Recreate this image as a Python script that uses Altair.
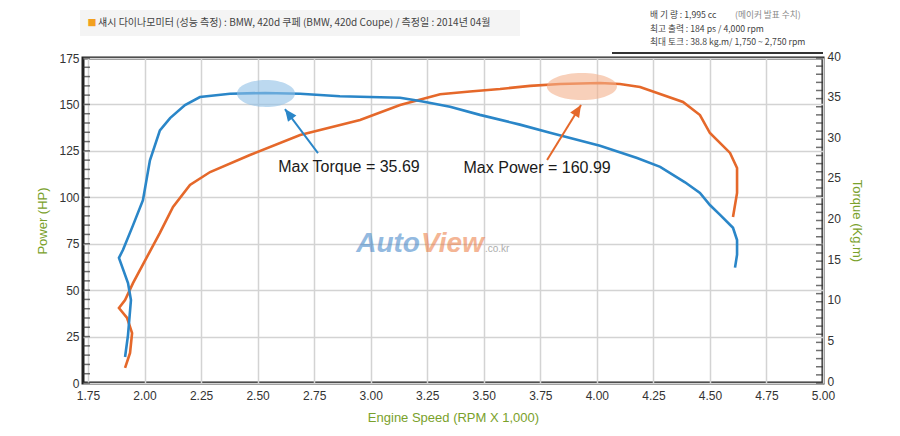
import altair as alt
import pandas as pd

# ---------------- data ----------------
torque_rpm = [1.914, 1.927, 1.940, 1.927, 1.887, 1.905, 1.949, 1.993, 2.024, 2.068,
              2.113, 2.179, 2.245, 2.378, 2.533, 2.688, 2.864, 3.130, 3.218, 3.351,
              3.483, 3.660, 3.793, 4.014, 4.178, 4.280, 4.390, 4.456, 4.500, 4.545,
              4.602, 4.620, 4.620, 4.611]
torque_kgm = [3.2, 5.9, 10.2, 12.3, 15.4, 16.4, 19.4, 22.5, 27.4, 31.1,
              32.6, 34.2, 35.2, 35.6, 35.7, 35.6, 35.3, 35.1, 34.7, 34.0,
              33.0, 31.8, 30.8, 29.2, 27.7, 26.6, 24.7, 23.4, 21.9, 20.7,
              19.1, 17.6, 15.8, 14.2]

power_rpm = [1.914, 1.936, 1.945, 1.923, 1.887, 1.914, 1.949, 2.011, 2.068, 2.126,
             2.201, 2.290, 2.466, 2.688, 2.953, 3.130, 3.307, 3.439, 3.572, 3.705,
             3.837, 4.014, 4.102, 4.191, 4.381, 4.456, 4.500, 4.589, 4.620, 4.620,
             4.602]
power_hp = [8.1, 16.2, 26.9, 35.0, 40.4, 44.7, 53.8, 67.9, 80.8, 94.8,
            106.6, 113.6, 122.8, 133.5, 141.6, 149.7, 155.5, 157.0, 158.3, 160.0,
            161.0, 161.5, 161.0, 159.4, 151.3, 144.3, 134.6, 123.9, 115.8, 102.3,
            89.4]

x_ticks = [1.75, 2.0, 2.25, 2.5, 2.75, 3.0, 3.25, 3.5, 3.75, 4.0, 4.25, 4.5, 4.75, 5.0]
hp_ticks = [0, 25, 50, 75, 100, 125, 150, 175]
tq_ticks = [0, 5, 10, 15, 20, 25, 30, 35, 40]
hp_minor = list(range(0, 176, 5))
tq_minor = list(range(0, 41))

# annotations (rpm, HP-scale)
ann_labels = ["Max Torque = 35.69", "Max Power = 160.99"]
ann_x = [2.904, 3.736]
ann_y = [116.3, 115.8]
ell_x = [2.537, 3.934]
ell_y = [155.9, 159.7]
arrow_x = [2.767, 3.780]
arrow_y = [123.8, 120.1]
arrow_x2 = [2.621, 3.930]
arrow_y2 = [147.5, 149.7]
arrow_ang = [323, 32]

header_text = "섀시 다이나모미터 (성능 측정)  :  BMW, 420d 쿠페 (BMW, 420d Coupe) / 측정일 : 2014년 04월"
spec_lines = ["배 기 량 : 1,995 cc", "최고 출력 : 184 ps / 4,000 rpm", "최대 토크 : 38.8 kg.m/ 1,750 ~ 2,750 rpm"]
spec_note = "(메이커 발표 수치)"

# ---------------- style ----------------
W, H = 740, 325
BLUE = "#2a86c8"
ORANGE = "#e5682a"
GREEN = "#7aa12b"
FONT = "Liberation Sans"
KFONT = "Noto Sans CJK KR"

X_DOMAIN = [1.728, 5.0]
hp_scale = alt.Scale(domain=[0, 175], nice=False, zero=True)
tq_scale = alt.Scale(domain=[0, 40], nice=False, zero=True)
x_scale = alt.Scale(domain=X_DOMAIN, nice=False, zero=False)

x_axis = alt.Axis(values=x_ticks, format=".2f", title="Engine Speed (RPM X 1,000)",
                  grid=True, gridColor="#d3d3d3", gridWidth=1.5, ticks=False, domain=False,
                  labelPadding=7, titlePadding=10, labelFont=FONT, labelFontSize=12,
                  labelColor="#333", titleFont=FONT, titleFontSize=13, titleFontWeight="normal",
                  titleColor=GREEN, labelFlush=False)
hp_axis = alt.Axis(values=hp_ticks, title="Power (HP)", orient="left", grid=True,
                   gridColor="#d3d3d3", gridWidth=1.5, ticks=False, domain=False,
                   labelPadding=4, titlePadding=9, labelFont=FONT, labelFontSize=12,
                   labelColor="#333", titleFont=FONT, titleFontSize=13,
                   titleFontWeight="normal", titleColor=GREEN)
tq_axis = alt.Axis(values=tq_ticks, title="Torque (Kg.m)", orient="right", grid=False,
                   ticks=False, domain=False, labelPadding=4, titlePadding=9,
                   labelOffset=-2,
                   labelFont=FONT, labelFontSize=12, labelColor="#333",
                   titleFont=FONT, titleFontSize=13, titleFontWeight="normal",
                   titleColor=GREEN)

tq_df = pd.DataFrame({"rpm": torque_rpm, "val": torque_kgm, "i": range(len(torque_rpm))})
pw_df = pd.DataFrame({"rpm": power_rpm, "val": power_hp, "i": range(len(power_rpm))})

power_line = alt.Chart(pw_df).mark_line(color=ORANGE, strokeWidth=2.6).encode(
    x=alt.X("rpm:Q", scale=x_scale, axis=x_axis),
    y=alt.Y("val:Q", scale=hp_scale, axis=hp_axis),
    order="i:Q",
)

hp_tick_layer = alt.Chart(pd.DataFrame({"val": hp_minor})).mark_tick(
    orient="horizontal", color="#333", thickness=1.5, size=7
).encode(y=alt.Y("val:Q", scale=hp_scale, axis=hp_axis), x=alt.value(3.5))

power_group = alt.layer(power_line, hp_tick_layer)

torque_line = alt.Chart(tq_df).mark_line(color=BLUE, strokeWidth=2.6).encode(
    x=alt.X("rpm:Q", scale=x_scale, axis=x_axis),
    y=alt.Y("val:Q", scale=tq_scale, axis=tq_axis),
    order="i:Q",
)

tq_tick_layer = alt.Chart(pd.DataFrame({"val": tq_minor})).mark_tick(
    orient="horizontal", color="#333", thickness=1.5, size=7
).encode(y=alt.Y("val:Q", scale=tq_scale, axis=tq_axis), x=alt.value(W - 3.5))

torque_group = alt.layer(torque_line, tq_tick_layer)

# ---------------- annotations ----------------
ann_y_enc = lambda f: alt.Y(f, scale=hp_scale, axis=None)
ann_x_enc = lambda f: alt.X(f, scale=x_scale, axis=x_axis)

ell_df = pd.DataFrame({"x": ell_x, "y": ell_y})
ell_blue = alt.Chart(ell_df.iloc[[0]]).mark_point(
    shape="M-1,0 A1,0.466 0 1,1 1,0 A1,0.466 0 1,1 -1,0 Z",
    filled=True, size=3364, color="#8fc0e6", opacity=0.6, strokeWidth=0
).encode(x=ann_x_enc("x:Q"), y=ann_y_enc("y:Q"))
ell_orange = alt.Chart(ell_df.iloc[[1]]).mark_point(
    shape="M-1,0 A1,0.386 0 1,1 1,0 A1,0.386 0 1,1 -1,0 Z",
    filled=True, size=4900, color="#f4b08c", opacity=0.6, strokeWidth=0
).encode(x=ann_x_enc("x:Q"), y=ann_y_enc("y:Q"))

arr_df = pd.DataFrame({"x": arrow_x, "y": arrow_y, "x2": arrow_x2, "y2": arrow_y2,
                       "ang": arrow_ang, "c": [BLUE, ORANGE]})
arrow_lines = alt.Chart(arr_df).mark_rule(strokeWidth=2).encode(
    x=ann_x_enc("x:Q"), y=ann_y_enc("y:Q"), x2="x2:Q", y2="y2:Q",
    color=alt.Color("c:N", scale=None))
arrow_heads = alt.Chart(arr_df).mark_point(
    shape="M0,0 L0.7,1.6 L-0.7,1.6 Z", filled=True, size=225, opacity=1, strokeWidth=0
).encode(x=ann_x_enc("x2:Q"), y=ann_y_enc("y2:Q"),
         angle=alt.Angle("ang:Q", scale=None), color=alt.Color("c:N", scale=None))

ann_df = pd.DataFrame({"x": ann_x, "y": ann_y, "t": ann_labels})
ann_text = alt.Chart(ann_df).mark_text(font=FONT, fontSize=16, color="#1a1a1a",
                                       align="center", baseline="middle").encode(
    x=ann_x_enc("x:Q"), y=ann_y_enc("y:Q"), text="t:N")

# watermark
wm_df = pd.DataFrame({"x": [3.218, 3.223, 3.505], "y": [70.5, 70.5, 70.5],
                      "t": ["Auto", "View", ".co.kr"]})
wm_auto = alt.Chart(wm_df.iloc[[0]]).mark_text(font=FONT, fontSize=28, fontWeight="bold",
                                               fontStyle="italic", color="#3c82c8", opacity=0.55,
                                               align="right", baseline="alphabetic").encode(
    x=ann_x_enc("x:Q"), y=ann_y_enc("y:Q"), text="t:N")
wm_view = alt.Chart(wm_df.iloc[[1]]).mark_text(font=FONT, fontSize=28, fontWeight="bold",
                                               fontStyle="italic", color="#ec7a40", opacity=0.55,
                                               align="left", baseline="alphabetic").encode(
    x=ann_x_enc("x:Q"), y=ann_y_enc("y:Q"), text="t:N")
wm_co = alt.Chart(wm_df.iloc[[2]]).mark_text(font=FONT, fontSize=10, color="#999",
                                             opacity=0.8, align="left",
                                             baseline="alphabetic").encode(
    x=ann_x_enc("x:Q"), y=ann_y_enc("y:Q"), text="t:N")

# header
hdr_box = alt.Chart(pd.DataFrame({"a": [0]})).mark_rect(color="#f4f4f4").encode(
    x=alt.value(-3), x2=alt.value(437), y=alt.value(-48), y2=alt.value(-22))
hdr_sq = alt.Chart(pd.DataFrame({"t": ["■"]})).mark_text(
    font=KFONT, fontSize=9, color="#f2a01e", align="center", baseline="middle").encode(
    x=alt.value(9), y=alt.value(-35), text="t:N")
hdr = alt.Chart(pd.DataFrame({"t": [header_text]})).mark_text(
    font=KFONT, fontSize=10, color="#444", align="left", baseline="middle").encode(
    x=alt.value(15), y=alt.value(-35), text="t:N")
spec = alt.Chart(pd.DataFrame({"t": spec_lines, "yy": [-43, -29, -16]})).mark_text(
    font=KFONT, fontSize=8.7, color="#444", align="left", baseline="middle").encode(
    x=alt.value(567), y=alt.Y("yy:Q", scale=None), text="t:N")
spec2 = alt.Chart(pd.DataFrame({"t": [spec_note]})).mark_text(
    font=KFONT, fontSize=8.7, color="#888", align="left", baseline="middle").encode(
    x=alt.value(652), y=alt.value(-43), text="t:N")
spec_rule = alt.Chart(pd.DataFrame({"a": [0]})).mark_rule(color="#333", strokeWidth=2).encode(
    x=alt.value(529), x2=alt.value(W), y=alt.value(-5))

annot_group = alt.layer(hdr_box, hdr_sq, hdr, spec, spec2, spec_rule,
                        wm_auto, wm_view, wm_co,
                        ell_blue, ell_orange, arrow_lines, arrow_heads, ann_text)

chart = alt.layer(power_group, torque_group, annot_group).resolve_scale(
    y="independent"
).properties(
    width=W, height=H,
    padding={"left": 75, "top": 50, "right": 60, "bottom": 45},
    autosize=alt.AutoSizeParams(type="none"),
    background="white",
).configure_view(stroke="#222", strokeWidth=3)

chart.save("out.html", embed_options={"renderer": "svg", "actions": False})
